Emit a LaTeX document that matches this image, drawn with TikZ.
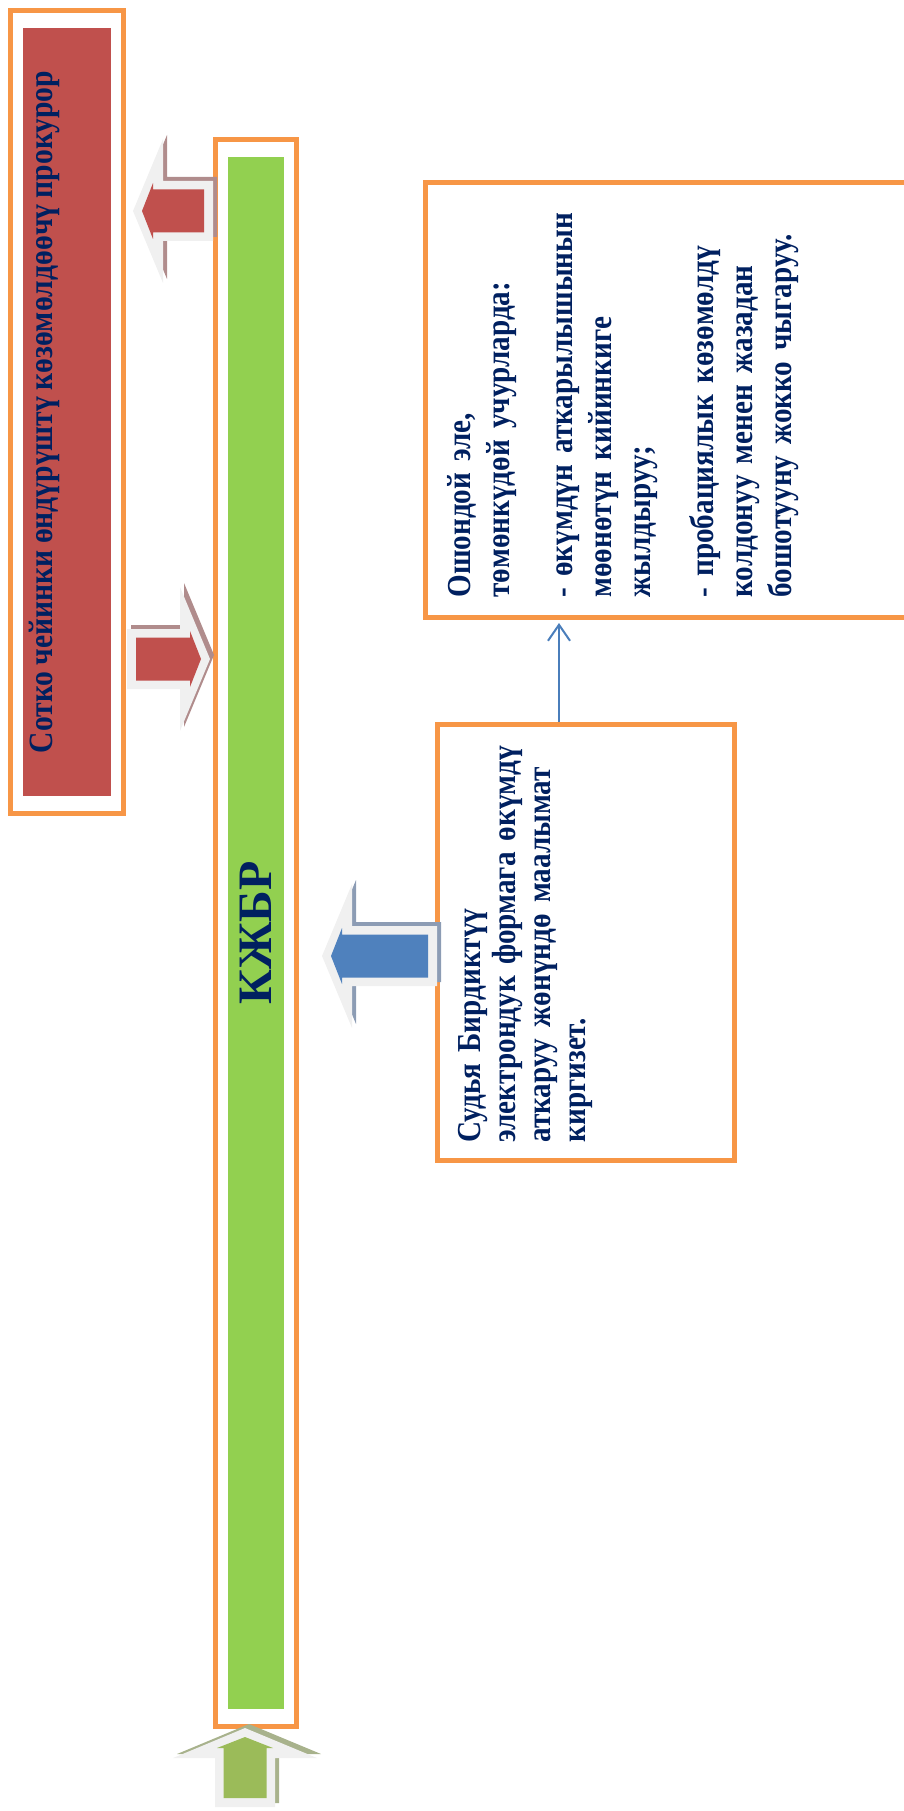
\documentclass[tikz,border=0pt]{standalone}
\usepackage{fontspec}
\setmainfont{Liberation Serif}
\newfontfamily\narrowserif[FakeStretch=0.87,WordSpace=0.85]{Liberation Serif}
\usetikzlibrary{arrows.meta, fit, positioning}

\definecolor{frameorange}{RGB}{247,150,70}
\definecolor{boxred}{RGB}{192,80,77}
\definecolor{bargreen}{RGB}{146,208,80}
\definecolor{navytext}{RGB}{0,32,96}
\definecolor{arrowgray}{RGB}{240,240,240}
\definecolor{redshade}{RGB}{176,140,140}
\definecolor{blueshade}{RGB}{140,156,180}
\definecolor{greenshade}{RGB}{168,178,140}
\definecolor{arrowblue}{RGB}{79,129,189}
\definecolor{arrowgreen}{RGB}{155,187,89}
\definecolor{linkblue}{RGB}{74,126,187}

\begin{document}
\begin{tikzpicture}[x=1pt,y=-1pt,
   frame/.style={draw=frameorange,line width=5pt},
   txt/.style={text=navytext,align=left},
   conn/.style={draw=linkblue,line width=2pt,-{Straight Barb[length=16pt,width=22pt]}},
   pics/blockarrow/.style n args={4}{code={
      \fill[#4,shift={(4,-4)},rotate=#2] (0,-30) -- (#1-30,-30) -- (#1-30,-72) -- (#1,0) -- (#1-30,72) -- (#1-30,30) -- (0,30) -- cycle;
      \fill[arrowgray,rotate=#2] (0,-30) -- (#1-30,-30) -- (#1-30,-72) -- (#1,0) -- (#1-30,72) -- (#1-30,30) -- (0,30) -- cycle;
      \fill[#3,rotate=#2] (9,-21.5) -- (#1-20,-21.5) -- (#1-20,-28) -- (#1-9,0) -- (#1-20,28) -- (#1-20,21.5) -- (9,21.5) -- cycle;
   }}]

   \useasboundingbox (0,0) rectangle (904,1811);

   % Nodes
      \node[fill=boxred,rotate=90,inner sep=0pt,minimum width=768pt,text height=29pt,text depth=59pt,
            text=navytext,font=\narrowserif\fontsize{34}{38}\selectfont\bfseries]   (prosec)  at (67,412)    {Сотко чейинки өндүрүштү көзөмөлдөөчү прокурор};
      \node[frame,fit=(prosec),inner xsep=12pt,inner ysep=17.5pt]               (prosecframe) {};
      \node[fill=bargreen,rotate=90,inner sep=0pt,minimum width=1552pt,minimum height=56pt,
            text=navytext,font=\fontsize{48}{56}\selectfont\bfseries]           (kjbr)    at (256,933)   {КЖБР};
      \node[frame,fit=(kjbr),inner xsep=12pt,inner ysep=17.5pt]                 (kjbrframe) {};
      \node[frame,txt,rotate=90,inner xsep=18pt,inner ysep=0pt,text width=400pt,text height=42.5pt,text depth=254.5pt,
            font=\narrowserif\fontsize{33.5}{35}\selectfont\bfseries]           (judge)   at (586,942.5) {Судья Бирдиктүү\\
                                                                                                          электрондук формага өкүмдү\\
                                                                                                          аткаруу жөнүндө маалымат\\
                                                                                                          киргизет.};
      \node[frame,txt,rotate=90,inner xsep=20pt,inner ysep=0pt,text width=395pt,text height=44.5pt,text depth=510pt,
            font=\narrowserif\fontsize{33.5}{39}\selectfont\bfseries]           (info)    at (702.75,400) {Ошондой эле,\\
                                                                                                          төмөнкүдөй учурларда:\\[24pt]
                                                                                                          - өкүмдүн аткарылышынын\\
                                                                                                          мөөнөтүн кийинкиге\\
                                                                                                          жылдыруу;\\[24pt]
                                                                                                          - пробациялык көзөмөлдү\\
                                                                                                          колдонуу менен жазадан\\
                                                                                                          бошотууну жокко чыгаруу.};

   % Arrows
      \pic at (213,211)  {blockarrow={80}{180}{boxred}{redshade}};
      \pic at (127,659)  {blockarrow={83}{0}{boxred}{redshade}};
      \pic at (437,956)  {blockarrow={115}{180}{arrowblue}{blueshade}};
      \pic at (245,1807) {blockarrow={79}{90}{arrowgreen}{greenshade}};

   % Paths
      \coordinate (linkfoot) at ([xshift=-27pt]judge.east);
      \draw[conn,shorten >=3pt] (linkfoot) -- (linkfoot |- info.west);
\end{tikzpicture}
\end{document}
